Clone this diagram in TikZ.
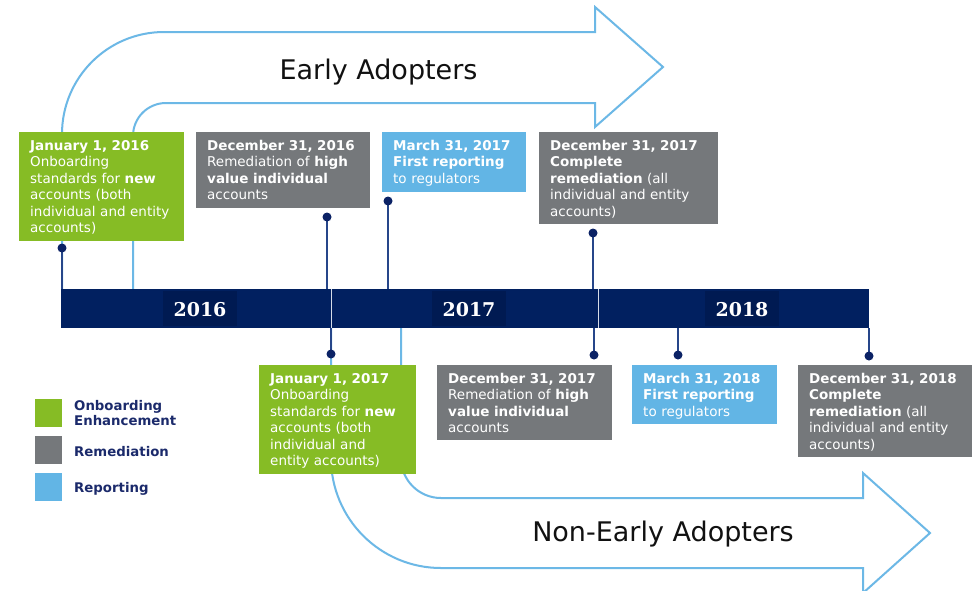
\documentclass[tikz,border=0pt]{standalone}
\usepackage{fontspec}
\setmainfont{DejaVu Sans}
\newfontfamily\yearfont{DejaVu Serif}
\definecolor{cgreen}{HTML}{86BC25}
\definecolor{cgray}{HTML}{75787B}
\definecolor{cblue}{HTML}{62B5E5}
\definecolor{cnavy}{HTML}{012060}
\definecolor{cyear}{HTML}{001A52}
\definecolor{cstem}{HTML}{26468A}
\definecolor{cdot}{HTML}{0B2265}
\definecolor{carrow}{HTML}{6CB8E6}
\definecolor{clegend}{HTML}{1B2A6B}
\definecolor{ctitle}{HTML}{111111}
\definecolor{cdiv}{HTML}{D6DCE8}
\begin{document}
\begin{tikzpicture}[x=1pt,y=-1pt,
  boxnode/.style={anchor=north west, inner sep=0pt, outer sep=0pt},
  gbox/.style={boxnode, fill=cgreen},
  rbox/.style={boxnode, fill=cgray},
  bbox/.style={boxnode, fill=cblue},
  btext/.style={anchor=base west, inner sep=0pt, text=white, text width=190pt, align=left, font=\fontsize{13.5}{16.5}\selectfont},
  stem/.style={draw=cstem, line width=1.4pt},
  dot/.style={circle, fill=cdot, inner sep=0pt, minimum size=9pt},
  flow/.style={draw=carrow, line width=2pt, line join=miter},
  title/.style={font=\fontsize{27}{32}\selectfont, text=ctitle, anchor=base, inner sep=0pt},
  yearbox/.style={fill=cyear, inner sep=0pt, minimum width=74pt, minimum height=35pt},
  yeartext/.style={font=\yearfont\bfseries\fontsize{19}{22}\selectfont, text=white, anchor=base, inner sep=0pt},
  divider/.style={draw=cdiv, line width=1pt},
  legsq/.style={anchor=north west, inner sep=0pt, minimum width=27pt, minimum height=28pt},
  legtext/.style={anchor=base west, inner sep=0pt, text=clegend, text width=120pt, align=left, font=\bfseries\fontsize{13.3}{15.5}\selectfont}
]
\clip (0,0) rectangle (979,590);
\fill[white] (0,0) rectangle (979,590);

% big flow arrows
\draw[flow] (62,289) -- (62,134) arc[start angle=180, end angle=90, radius=102pt]
  -- (595,32) -- (595,7) -- (663,67) -- (595,127) -- (595,103) -- (166,103)
  arc[start angle=90, end angle=180, radius=33pt] -- (133,289);
\draw[flow] (331,328) -- (331,458) arc[start angle=180, end angle=270, radius=110pt]
  -- (863,568) -- (863,593) -- (930,533) -- (863,473) -- (863,498) -- (441,498)
  arc[start angle=270, end angle=180, radius=40pt] -- (401,328);
\node[title] (early) at (378.5,79) {Early Adopters};
\node[title] (nonearly) at (663,541) {Non-Early Adopters};

% top boxes
\node[gbox, minimum width=165pt, minimum height=109pt] (b1) at (19,132) {};
\node[btext] (b1t) at ([xshift=11pt,yshift=-18pt]b1.north west) {\textbf{January 1, 2016}\\Onboarding\\standards for \textbf{new}\\accounts (both\\individual and entity\\accounts)};
\node[rbox, minimum width=174pt, minimum height=76pt] (b2) at (196,132) {};
\node[btext] (b2t) at ([xshift=11pt,yshift=-18pt]b2.north west) {\textbf{December 31, 2016}\\Remediation of \textbf{high}\\\textbf{value individual}\\accounts};
\node[bbox, minimum width=144pt, minimum height=60pt] (b3) at (382,132) {};
\node[btext] (b3t) at ([xshift=11pt,yshift=-18pt]b3.north west) {\textbf{March 31, 2017}\\\textbf{First reporting}\\to regulators};
\node[rbox, minimum width=179pt, minimum height=92pt] (b4) at (539,132) {};
\node[btext] (b4t) at ([xshift=11pt,yshift=-18pt]b4.north west) {\textbf{December 31, 2017}\\\textbf{Complete}\\\textbf{remediation} (all\\individual and entity\\accounts)};

% bottom boxes
\node[gbox, minimum width=157pt, minimum height=109pt] (b5) at (259,365) {};
\node[btext] (b5t) at ([xshift=11pt,yshift=-18pt]b5.north west) {\textbf{January 1, 2017}\\Onboarding\\standards for \textbf{new}\\accounts (both\\individual and\\entity accounts)};
\node[rbox, minimum width=175pt, minimum height=75pt] (b6) at (437,365) {};
\node[btext] (b6t) at ([xshift=11pt,yshift=-18pt]b6.north west) {\textbf{December 31, 2017}\\Remediation of \textbf{high}\\\textbf{value individual}\\accounts};
\node[bbox, minimum width=145pt, minimum height=59pt] (b7) at (632,365) {};
\node[btext] (b7t) at ([xshift=11pt,yshift=-18pt]b7.north west) {\textbf{March 31, 2018}\\\textbf{First reporting}\\to regulators};
\node[rbox, minimum width=174pt, minimum height=92pt] (b8) at (798,365) {};
\node[btext] (b8t) at ([xshift=11pt,yshift=-18pt]b8.north west) {\textbf{December 31, 2018}\\\textbf{Complete}\\\textbf{remediation} (all\\individual and entity\\accounts)};

% timeline bar
\node[anchor=north west, fill=cnavy, inner sep=0pt, minimum width=808pt, minimum height=39pt] (bar) at (61,289) {};
\node[yearbox] (y16) at (200,308.5) {};
\node[yearbox] (y17) at (469,308.5) {};
\node[yearbox] (y18) at (742,308.5) {};
\node[yeartext] (y16t) at (200,316) {2016};
\node[yeartext] (y17t) at (469,316) {2017};
\node[yeartext] (y18t) at (742,316) {2018};
\coordinate (v1a) at (331,289); \coordinate (v1b) at (331,328);
\coordinate (v2a) at (598,289); \coordinate (v2b) at (598,328);
\draw[divider] (v1a) -- (v1b);
\draw[divider] (v2a) -- (v2b);

% stems with dots
\coordinate (s1) at (62,289);  \coordinate (p1) at (62,248);
\coordinate (s2) at (327,289); \coordinate (p2) at (327,217);
\coordinate (s3) at (388,289); \coordinate (p3) at (388,201);
\coordinate (s4) at (593,289); \coordinate (p4) at (593,233);
\coordinate (s5) at (331,328); \coordinate (p5) at (331,354);
\coordinate (s6) at (594,328); \coordinate (p6) at (594,355);
\coordinate (s7) at (678,328); \coordinate (p7) at (678,355);
\coordinate (s8) at (869,328); \coordinate (p8) at (869,356);
\foreach \i in {1,...,8}{\draw[stem] (s\i) -- (p\i);}
\node[dot] (d1) at (p1) {};
\node[dot] (d2) at (p2) {};
\node[dot] (d3) at (p3) {};
\node[dot] (d4) at (p4) {};
\node[dot] (d5) at (p5) {};
\node[dot] (d6) at (p6) {};
\node[dot] (d7) at (p7) {};
\node[dot] (d8) at (p8) {};

% legend
\node[legsq, fill=cgreen] (lg1) at (35,399) {};
\node[legsq, fill=cgray] (lg2) at (35,436) {};
\node[legsq, fill=cblue] (lg3) at (35,473) {};
\node[legtext] (lt1) at (74,410) {Onboarding\\Enhancement};
\node[legtext] (lt2) at (74,456) {Remediation};
\node[legtext] (lt3) at (74,492) {Reporting};
\end{tikzpicture}
\end{document}
